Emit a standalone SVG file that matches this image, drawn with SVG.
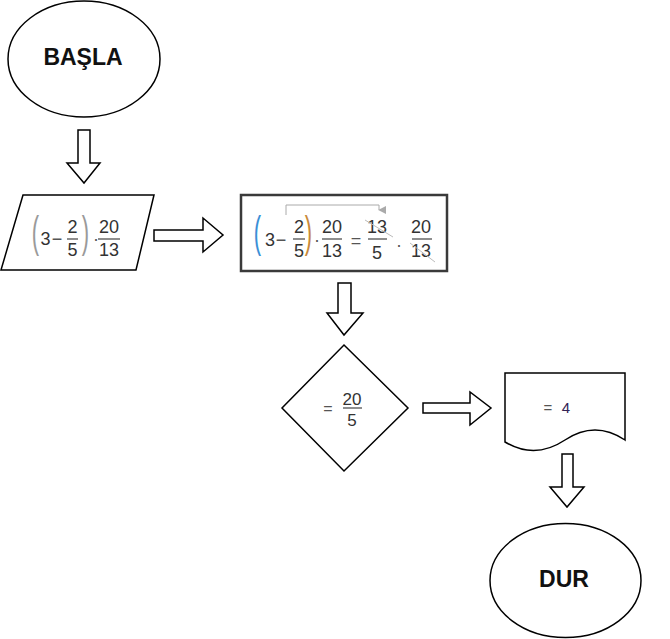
<svg xmlns="http://www.w3.org/2000/svg" width="670" height="639" viewBox="0 0 670 639">
<defs>
<style>
.sh{fill:#fff;stroke:#000;stroke-width:1.5}
.arr{fill:#fff;stroke:#000;stroke-width:1.5;stroke-linejoin:miter}
.big{font-family:"Liberation Sans",Arial,sans-serif;font-weight:bold;font-size:23px;fill:#111;text-anchor:middle}
.m{font-family:"Liberation Sans",Arial,sans-serif;font-size:18px;fill:#333;text-anchor:middle}
.op{font-family:"Liberation Sans",Arial,sans-serif;font-size:18px;fill:#555;text-anchor:middle}
.bar{stroke:#444;stroke-width:1.2}
.par{font-family:"Liberation Sans",Arial,sans-serif;font-size:22px;text-anchor:middle}
.strike{stroke:#bbb;stroke-width:1}
</style>
<marker id="gh" viewBox="0 0 10 10" refX="5" refY="9" markerWidth="8" markerHeight="8" orient="auto-start-reverse" markerUnits="userSpaceOnUse">
<path d="M0,0 L10,0 L5,10 Z" fill="#aaa"/>
</marker>
</defs>
<rect width="670" height="639" fill="#fff"/>

<g id="connectors">
<polygon class="arr" points="78,130 90,130 90,163 100,163 84,183 67,163 78,163"/>
<polygon class="arr" points="154,230 203,230 203,218 223,235 203,252 203,241 154,241"/>
<polygon class="arr" points="338,283 351,283 351,313 363,313 344,335 327,313 338,313"/>
<polygon class="arr" points="423,403 470,403 470,392 491,408 470,425 470,413 423,413"/>
<polygon class="arr" points="562,454 573,454 573,487 584,487 567,507 550,487 562,487"/>
</g>

<g id="start">
<ellipse class="sh" cx="84" cy="59" rx="76" ry="58"/>
<text class="big" x="83" y="65">BAŞLA</text>
</g>

<g id="input">
<polygon class="sh" points="23,195 154,195 136,270 1,270"/>
<text class="par" fill="#9a9a9a" transform="translate(35.5,247) scale(1,2)">(</text>
<text class="m" x="45.5" y="245">3</text>
<text class="op" x="57" y="245">−</text>
<text class="m" x="72.5" y="233">2</text>
<line class="bar" x1="67" y1="239" x2="78" y2="239"/>
<text class="m" x="72.5" y="256">5</text>
<text class="par" fill="#9a9a9a" transform="translate(85.5,247) scale(1,2)">)</text>
<text class="op" x="96" y="245">·</text>
<text class="m" x="109" y="233">20</text>
<line class="bar" x1="98" y1="239" x2="120" y2="239"/>
<text class="m" x="109" y="256">13</text>
</g>

<g id="process">
<rect x="241" y="195" width="206" height="76" fill="#fff" stroke="#3a3a3a" stroke-width="2.5"/>
<path d="M286,215 V205 H379 V210" fill="none" stroke="#aaa" stroke-width="1" marker-end="url(#gh)"/>
<text class="par" fill="#3b8fd6" transform="translate(257.5,247) scale(1,2)">(</text>
<text class="m" x="270" y="246">3</text>
<text class="op" x="281" y="246">−</text>
<text class="m" x="299" y="233">2</text>
<line class="bar" x1="293" y1="239" x2="305" y2="239"/>
<text class="m" x="299" y="257">5</text>
<text class="par" fill="#c98a3a" transform="translate(308.5,247) scale(1,2)">)</text>
<text class="op" x="317" y="246">·</text>
<text class="m" x="332" y="233">20</text>
<line class="bar" x1="322" y1="239" x2="342" y2="239"/>
<text class="m" x="356" y="247" style="fill:#555">=</text>
<text class="m" x="332" y="257">13</text>
<text class="m" x="377" y="233">13</text>
<line class="bar" x1="368" y1="239" x2="387" y2="239"/>
<text class="m" x="377" y="259">5</text>
<line class="strike" x1="365" y1="220" x2="393" y2="237"/>
<text class="op" x="399" y="251">·</text>
<text class="m" x="421" y="233">20</text>
<line class="bar" x1="412" y1="239" x2="432" y2="239"/>
<text class="m" x="421" y="257">13</text>
<line class="strike" x1="410" y1="243" x2="435" y2="262"/>
</g>

<g id="decision">
<polygon class="sh" points="344,345 408,408 344,471 282,408"/>
<text class="op" x="328" y="414" style="font-size:16px">=</text>
<text class="m" x="352" y="405" style="font-size:17px">20</text>
<line class="bar" x1="343" y1="408" x2="362" y2="408"/>
<text class="m" x="352" y="426" style="font-size:17px">5</text>
</g>

<g id="output">
<path class="sh" d="M505,373 H625 V440 Q595,420 565,440 Q535,460 505,442 Z"/>
<text class="op" x="548" y="413" style="font-size:15px">=</text>
<text class="m" x="566" y="413" style="font-size:15px;fill:#332255">4</text>
</g>

<g id="end">
<ellipse class="sh" cx="565.5" cy="580.5" rx="75.5" ry="57"/>
<text class="big" x="564" y="587">DUR</text>
</g>
</svg>
